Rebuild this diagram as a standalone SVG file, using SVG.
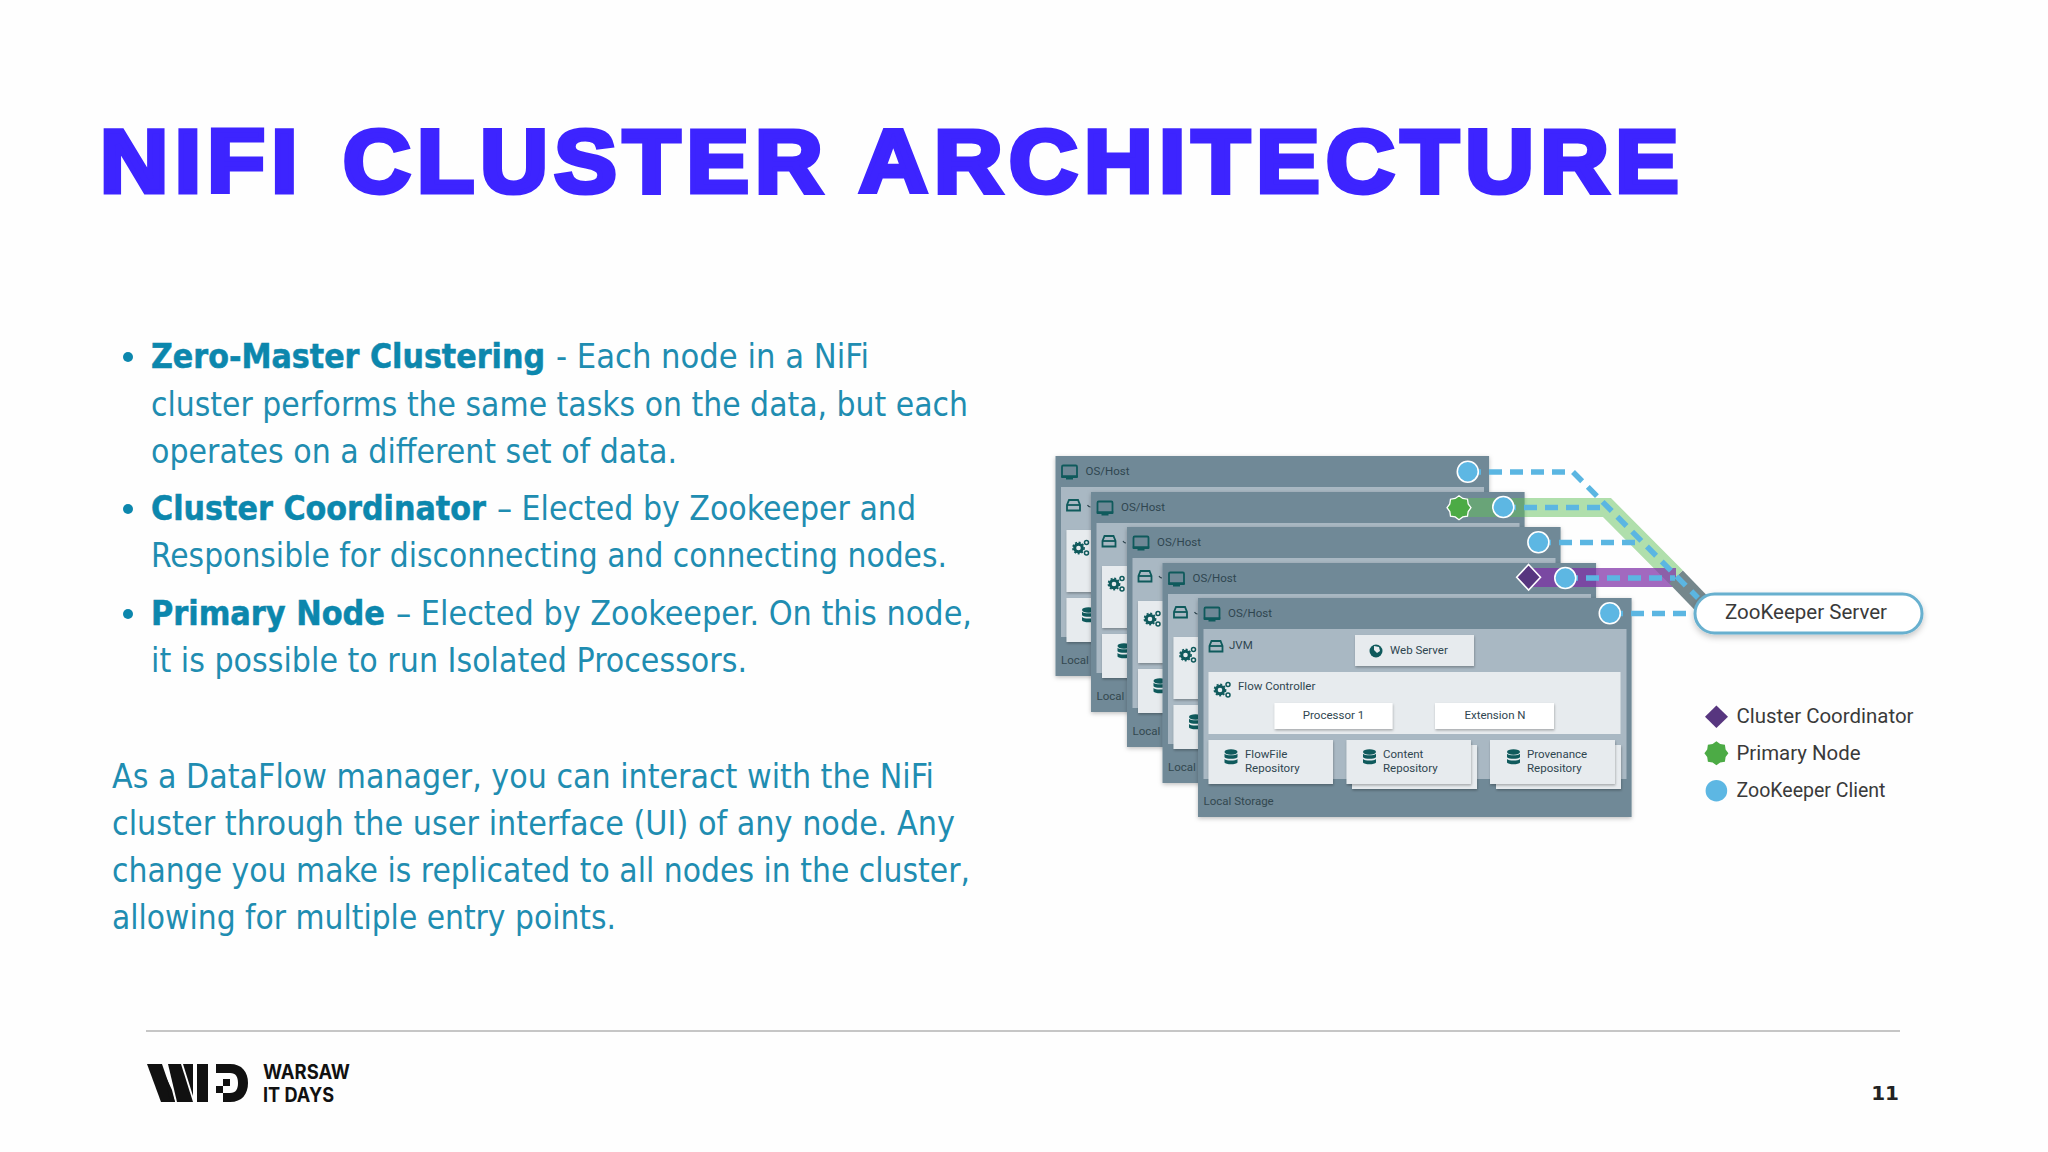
<svg xmlns="http://www.w3.org/2000/svg" xmlns:xlink="http://www.w3.org/1999/xlink" width="2048" height="1152" viewBox="0 0 2048 1152">
<style>
.b{font-family:"DejaVu Sans Condensed","DejaVu Sans","Liberation Sans",sans-serif;font-size:34px;fill:#1f8db1}
.bb{font-family:"DejaVu Sans Condensed","DejaVu Sans","Liberation Sans",sans-serif;font-size:33px;font-weight:700;fill:#0c87ad;stroke:#0c87ad;stroke-width:.5px}
.ti{font-family:"Liberation Sans",sans-serif;font-weight:700;font-size:89px;letter-spacing:6px;fill:#3d24ff;stroke:#3d24ff;stroke-width:5px;stroke-linejoin:miter}
.t{font-family:"Roboto","Liberation Sans",sans-serif;font-size:11.5px;fill:#33484f}
.h{font-family:"Roboto","Liberation Sans",sans-serif;font-size:11.5px;fill:#2f4650}
.l{font-family:"Roboto","Liberation Sans",sans-serif;font-size:20.5px;fill:#3a3a3a}
.card{fill:#6f8997;filter:url(#sh)}
.panel{fill:#a9b8c3}
.box{fill:#e7ebee;filter:url(#sm)}
.wbox{fill:#fff;filter:url(#sm)}
.cl{fill:#5db7e3;stroke:#fff;stroke-width:1.6}
.dash{fill:none;stroke:#5bb6e2;stroke-width:5.5;stroke-dasharray:13 8}
.ic{fill:#0f5a5c}
.ico{fill:none;stroke:#0f5a5c;stroke-width:1.8}
.j{fill:none;stroke:#2f4650;stroke-width:1.2}
</style>
<defs>
<filter id="sh" x="-5%" y="-5%" width="110%" height="110%"><feDropShadow dx="0" dy="1.5" stdDeviation="2" flood-color="#000" flood-opacity=".25"/></filter>
<filter id="sm" x="-5%" y="-10%" width="110%" height="125%"><feDropShadow dx="0.5" dy="1.5" stdDeviation="1.2" flood-color="#000" flood-opacity=".28"/></filter>
<filter id="pill" x="-5%" y="-20%" width="110%" height="150%"><feDropShadow dx="0" dy="3" stdDeviation="3" flood-color="#000" flood-opacity=".22"/></filter>
<polygon id="star" points="12,0 9.2,3.8 8.5,8.5 3.8,9.2 0,12 -3.8,9.2 -8.5,8.5 -9.2,3.8 -12,0 -9.2,-3.8 -8.5,-8.5 -3.8,-9.2 0,-12 3.8,-9.2 8.5,-8.5 9.2,-3.8"/>
<g id="mon"><rect x="-7.5" y="-6.5" width="15" height="11" rx="1.2" class="ico"/><path d="M-8.5 3.5h17v1.5a1 1 0 0 1-1 1h-4v1.5h-7V6h-4a1 1 0 0 1-1-1z" class="ic"/></g>
<g id="disk"><path d="M-4.5 -5h9l2 5v5.5h-13V0z" class="ico"/><path d="M-6.5 0h13" class="ico"/></g>
<g id="gears"><circle cx="-2" cy="1" r="3.8" fill="none" stroke="#0f5a5c" stroke-width="3"/><circle cx="-2" cy="1" r="5.6" fill="none" stroke="#0f5a5c" stroke-width="1.6" stroke-dasharray="2 1.7"/><circle cx="6" cy="-4.5" r="2" fill="none" stroke="#0f5a5c" stroke-width="1.5"/><circle cx="6" cy="6" r="2" fill="none" stroke="#0f5a5c" stroke-width="1.5"/></g>
<g id="db"><ellipse cx="0" cy="-5" rx="6.5" ry="2.7" class="ic"/><path d="M-6.5 -3.2c2 2 11 2 13 0v3.4c-2 2-11 2-13 0z" class="ic"/><path d="M-6.5 2c2 2 11 2 13 0v3.4c-1 2.4-12 2.4-13 0z" class="ic"/></g>
</defs>
<rect id="background" width="2048" height="1152" fill="#fefefe"/>

<g id="title">
<text class="ti" x="100" y="192" textLength="204" lengthAdjust="spacingAndGlyphs">NIFI</text>
<text class="ti" x="343" y="192" textLength="486" lengthAdjust="spacingAndGlyphs">CLUSTER</text>
<text class="ti" x="859" y="192" textLength="826" lengthAdjust="spacingAndGlyphs">ARCHITECTURE</text>
</g>

<g id="bullets" fill="#0c87ad"><circle cx="128" cy="357" r="5"/><circle cx="128" cy="509" r="5"/><circle cx="128" cy="614" r="5"/></g>
<g id="body">
<text class="bb" x="151" y="368" textLength="394" lengthAdjust="spacingAndGlyphs">Zero-Master Clustering</text>
<text class="b" x="556" y="368" textLength="313" lengthAdjust="spacingAndGlyphs">- Each node in a NiFi</text>
<text class="b" x="151" y="416" textLength="817" lengthAdjust="spacingAndGlyphs">cluster performs the same tasks on the data, but each</text>
<text class="b" x="151" y="463" textLength="526" lengthAdjust="spacingAndGlyphs">operates on a different set of data.</text>
<text class="bb" x="151" y="520" textLength="335" lengthAdjust="spacingAndGlyphs">Cluster Coordinator</text>
<text class="b" x="497" y="520" textLength="419" lengthAdjust="spacingAndGlyphs">– Elected by Zookeeper and</text>
<text class="b" x="151" y="567" textLength="796" lengthAdjust="spacingAndGlyphs">Responsible for disconnecting and connecting nodes.</text>
<text class="bb" x="151" y="625" textLength="234" lengthAdjust="spacingAndGlyphs">Primary Node</text>
<text class="b" x="396" y="625" textLength="576" lengthAdjust="spacingAndGlyphs">– Elected by Zookeeper. On this node,</text>
<text class="b" x="151" y="672" textLength="596" lengthAdjust="spacingAndGlyphs">it is possible to run Isolated Processors.</text>
<text class="b" x="112" y="788" textLength="822" lengthAdjust="spacingAndGlyphs">As a DataFlow manager, you can interact with the NiFi</text>
<text class="b" x="112" y="835" textLength="843" lengthAdjust="spacingAndGlyphs">cluster through the user interface (UI) of any node. Any</text>
<text class="b" x="112" y="882" textLength="858" lengthAdjust="spacingAndGlyphs">change you make is replicated to all nodes in the cluster,</text>
<text class="b" x="112" y="929" textLength="504" lengthAdjust="spacingAndGlyphs">allowing for multiple entry points.</text>
</g>

<g id="card1" transform="translate(1055.5 456)">
<rect class="card" width="433.6" height="220"/><rect class="panel" x="5.5" y="31" width="423" height="150"/>
<use href="#mon" x="14" y="16"/><text class="h" x="30" y="19">OS/Host</text><use href="#disk" x="18" y="49"/><path class="j" d="M32 49q1 2 3 2"/>
<rect class="box" x="11" y="74" width="60" height="62"/><use href="#gears" x="25" y="91"/>
<rect class="box" x="11" y="142" width="60" height="44"/><use href="#db" x="33" y="159"/>
<text class="t" x="5.5" y="208">Local</text>
</g>
<g id="card2" transform="translate(1091 492)">
<rect class="card" width="433.6" height="220"/><rect class="panel" x="5.5" y="31" width="423" height="150"/>
<use href="#mon" x="14" y="16"/><text class="h" x="30" y="19">OS/Host</text><use href="#disk" x="18" y="49"/><path class="j" d="M32 49q1 2 3 2"/>
<rect class="box" x="11" y="74" width="60" height="62"/><use href="#gears" x="25" y="91"/>
<rect class="box" x="11" y="142" width="60" height="44"/><use href="#db" x="33" y="159"/>
<text class="t" x="5.5" y="208">Local</text>
</g>
<g id="card3" transform="translate(1127 527)">
<rect class="card" width="433.6" height="220"/><rect class="panel" x="5.5" y="31" width="423" height="150"/>
<use href="#mon" x="14" y="16"/><text class="h" x="30" y="19">OS/Host</text><use href="#disk" x="18" y="49"/><path class="j" d="M32 49q1 2 3 2"/>
<rect class="box" x="11" y="74" width="60" height="62"/><use href="#gears" x="25" y="91"/>
<rect class="box" x="11" y="142" width="60" height="44"/><use href="#db" x="33" y="159"/>
<text class="t" x="5.5" y="208">Local</text>
</g>
<g id="card4" transform="translate(1162.5 563)">
<rect class="card" width="433.6" height="220"/><rect class="panel" x="5.5" y="31" width="423" height="150"/>
<use href="#mon" x="14" y="16"/><text class="h" x="30" y="19">OS/Host</text><use href="#disk" x="18" y="49"/><path class="j" d="M32 49q1 2 3 2"/>
<rect class="box" x="11" y="74" width="60" height="62"/><use href="#gears" x="25" y="91"/>
<rect class="box" x="11" y="142" width="60" height="44"/><use href="#db" x="33" y="159"/>
<text class="t" x="5.5" y="208">Local</text>
</g>
<g id="card5" transform="translate(1198 598)">
<rect class="card" width="433.6" height="219"/><rect class="panel" x="5.5" y="31" width="423" height="150"/>
<use href="#mon" x="14" y="16"/><text class="h" x="30" y="19">OS/Host</text>
<use href="#disk" x="18" y="48"/><text class="h" x="31" y="51">JVM</text>
<rect class="box" x="157" y="37" width="119" height="31"/>
<circle cx="178" cy="53" r="6.5" class="ic"/><path d="M176 48l5 1 1 4-3 2-3-3z" fill="#e7ebee"/>
<text class="h" x="192" y="56">Web Server</text>
<rect class="box" x="10.5" y="74" width="412" height="62" style="filter:none"/>
<use href="#gears" x="24" y="91"/><text class="h" x="40" y="92">Flow Controller</text>
<rect class="wbox" x="76.5" y="105" width="118" height="26"/><text class="h" x="135.5" y="121" text-anchor="middle">Processor 1</text>
<rect class="wbox" x="237" y="105" width="119" height="26"/><text class="h" x="297" y="121" text-anchor="middle">Extension N</text>
<rect class="box" x="154" y="147" width="125" height="44"/><rect class="box" x="298" y="147" width="125" height="44"/>
<rect class="box" x="10.5" y="142" width="124.5" height="44"/>
<use href="#db" x="33" y="159"/><text class="h" x="47" y="160">FlowFile</text><text class="h" x="47" y="173.500">Repository</text>
<rect class="box" x="148.500" y="142" width="124.500" height="44"/>
<use href="#db" x="171.500" y="159"/><text class="h" x="185" y="160">Content</text><text class="h" x="185" y="173.500">Repository</text>
<rect class="box" x="292" y="142" width="125" height="44"/>
<use href="#db" x="315.500" y="159"/><text class="h" x="329" y="160">Provenance</text><text class="h" x="329" y="173.500">Repository</text>
<text class="t" x="5.5" y="207">Local Storage</text>
</g>

<g id="connectors">
<path d="M1459 507.500H1607L1676 577" fill="none" stroke="#62bf5a" stroke-opacity=".5" stroke-width="19"/>
<path d="M1528 577.500H1676" fill="none" stroke="#7e2fa6" stroke-opacity=".72" stroke-width="19"/>
<path d="M1676 577L1703 605" fill="none" stroke="#75878c" stroke-width="19"/>
<path class="dash" d="M1468 472H1573L1698 598"/>
<path class="dash" d="M1503 507.500H1607"/>
<path class="dash" d="M1538 542.500H1640"/>
<path class="dash" d="M1565 578H1675"/>
<path class="dash" d="M1610 613.500H1696"/>
</g>

<g id="client1"><circle class="cl" cx="1467.800" cy="471.700" r="10.500"/></g>
<g id="primary"><use href="#star" x="1459" y="507.700" fill="#4cab45" stroke="#fff" stroke-width="1.300"/></g>
<g id="client2"><circle class="cl" cx="1503.300" cy="507" r="10.500"/></g>
<g id="client3"><circle class="cl" cx="1538.400" cy="542.300" r="10.500"/></g>
<g id="coordinator"><polygon points="1528.600,564.500 1540.500,577.300 1528.600,590 1516.700,577.300" fill="#57367f" stroke="#fff" stroke-width="1.600"/></g>
<g id="client4"><circle class="cl" cx="1565.300" cy="578" r="10.500"/></g>
<g id="client5"><circle class="cl" cx="1609.800" cy="613.300" r="10.500"/></g>

<g id="zookeeper">
<rect x="1695" y="594" width="227" height="39" rx="19.500" fill="#fff" stroke="#67b0cf" stroke-width="3" filter="url(#pill)"/>
<text class="l" x="1725" y="619" textLength="162" lengthAdjust="spacingAndGlyphs">ZooKeeper Server</text>
</g>

<g id="legend">
<polygon points="1716.400,705.500 1728,716.700 1716.400,728 1705,716.700" fill="#57367f"/>
<text class="l" x="1736.500" y="723" textLength="177" lengthAdjust="spacingAndGlyphs">Cluster Coordinator</text>
<use href="#star" x="1716.400" y="753.300" fill="#4cab45"/>
<text class="l" x="1736.500" y="760" textLength="124" lengthAdjust="spacingAndGlyphs">Primary Node</text>
<circle cx="1716.400" cy="790.700" r="10.800" fill="#5db7e3"/>
<text class="l" x="1736.500" y="797" textLength="149" lengthAdjust="spacingAndGlyphs">ZooKeeper Client</text>
</g>

<line id="rule" x1="146" y1="1031" x2="1900" y2="1031" stroke="#c6c6c6" stroke-width="2"/>
<g id="logo" fill="#111">
<polygon points="147,1064 162,1064 175,1102 161,1102"/>
<polygon points="165,1075 172,1090 175,1102 170,1102"/>
<polygon points="168,1064 181,1064 193,1102 177,1102"/>
<polygon points="183,1064 193,1064 193,1096"/>
<rect x="197" y="1064" width="11" height="38"/>
<path d="M216 1064h14c12 0 18 8 18 19s-6 19-18 19h-7v-9h7c6 0 8-4 8-10s-2-10-8-10h-14z"/>
<rect x="223" y="1079" width="7" height="7"/><rect x="216" y="1086" width="7" height="7"/>
</g>
<text x="263" y="1079" textLength="87" lengthAdjust="spacingAndGlyphs" style="font-family:'Inter','Liberation Sans',sans-serif;font-weight:700;font-size:20px;fill:#111">WARSAW</text>
<text x="263" y="1102" textLength="71" lengthAdjust="spacingAndGlyphs" style="font-family:'Inter','Liberation Sans',sans-serif;font-weight:700;font-size:20px;fill:#111">IT DAYS</text>
<text x="1899" y="1100" text-anchor="end" style="font-family:'DejaVu Sans',sans-serif;font-weight:700;font-size:20px;fill:#222">11</text>
</svg>
